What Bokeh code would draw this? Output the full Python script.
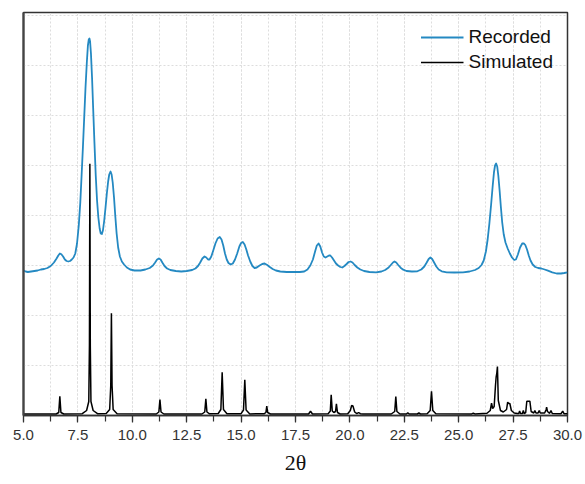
from bokeh.plotting import figure
from bokeh.models import Range1d, SingleIntervalTicker, FixedTicker, PrintfTickFormatter
from bokeh.embed import file_html
from bokeh.resources import INLINE

# Recorded pattern (offset)
rec_x = [5.00, 5.10, 5.20, 5.35, 5.50, 5.65, 5.80, 5.95, 6.10, 6.25, 6.40, 6.52, 6.60, 6.67,
         6.74, 6.82, 6.90, 6.98, 7.06, 7.14, 7.22, 7.30, 7.38, 7.46, 7.54, 7.61, 7.67, 7.73,
         7.79, 7.85, 7.91, 7.96, 8.00, 8.03, 8.06, 8.10, 8.15, 8.20, 8.26, 8.32, 8.38, 8.44,
         8.50, 8.55, 8.60, 8.65, 8.71, 8.77, 8.83, 8.89, 8.94, 9.00, 9.05, 9.10, 9.16, 9.22,
         9.28, 9.35, 9.43, 9.52, 9.62, 9.75, 9.90, 10.10, 10.38,
         10.60, 10.80, 10.95, 11.05, 11.14, 11.22, 11.30, 11.38, 11.48, 11.60, 11.75, 12.00,
         12.25, 12.50, 12.75, 12.90, 13.02, 13.12, 13.22, 13.32, 13.40, 13.48, 13.55, 13.63,
         13.72, 13.82, 13.92, 14.02, 14.10, 14.18, 14.26, 14.34, 14.42, 14.52, 14.62, 14.72,
         14.82, 14.92, 15.00, 15.08, 15.16, 15.24, 15.32, 15.42, 15.52, 15.62, 15.72, 15.85,
         15.97, 16.08, 16.20, 16.32, 16.45, 16.60, 16.80, 17.10, 17.40, 17.70, 17.90, 18.05,
         18.18, 18.30, 18.40, 18.48, 18.56, 18.64, 18.72, 18.80, 18.88, 18.96, 19.04, 19.10,
         19.18, 19.27, 19.36, 19.46, 19.56, 19.65, 19.75, 19.85, 19.94, 20.03, 20.12, 20.22,
         20.34, 20.48, 20.65, 20.90, 21.20, 21.45, 21.62, 21.78, 21.90, 21.98, 22.05, 22.13,
         22.22, 22.33, 22.45, 22.60, 22.85, 23.10, 23.28, 23.42, 23.53, 23.62, 23.70, 23.78,
         23.87, 23.97, 24.08, 24.22, 24.45, 24.80, 25.20, 25.50, 25.75, 25.92, 26.05, 26.15,
         26.25, 26.33, 26.41, 26.49, 26.56, 26.62, 26.67, 26.72, 26.77, 26.82, 26.88, 26.94,
         27.00, 27.07, 27.15, 27.25, 27.35, 27.45, 27.55, 27.63, 27.72, 27.82, 27.92, 27.99,
         28.06, 28.14, 28.22, 28.30, 28.40, 28.52, 28.65, 28.80, 28.95, 29.10, 29.30, 29.50,
         29.70, 29.85, 30.00]
rec_y = [1450, 1440, 1435, 1440, 1445, 1450, 1460, 1465, 1475, 1495, 1530, 1570, 1600, 1620,
         1612, 1590, 1560, 1545, 1540, 1545, 1560, 1580, 1620, 1720, 1900, 2130, 2400, 2680,
         2980, 3280, 3530, 3700, 3760, 3770, 3740, 3620, 3380, 3080, 2730, 2400, 2150, 1980,
         1870, 1820, 1815, 1850, 1950, 2080, 2220, 2340, 2410, 2440, 2410, 2330, 2180, 1990,
         1820, 1680, 1590, 1540, 1510, 1480, 1460, 1450, 1450,
         1460, 1475, 1500, 1530, 1560, 1570, 1560, 1530, 1495, 1470, 1455, 1445,
         1440, 1445, 1455, 1470, 1495, 1530, 1570, 1590, 1580, 1560, 1560, 1590,
         1650, 1720, 1770, 1785, 1760, 1700, 1620, 1560, 1525, 1510, 1520, 1560,
         1620, 1690, 1725, 1735, 1710, 1660, 1600, 1540, 1495, 1475, 1480, 1500,
         1515, 1520, 1505, 1485, 1465, 1450, 1440, 1435, 1435, 1435, 1440, 1460,
         1500, 1560, 1640, 1700, 1720, 1690, 1630, 1590, 1580, 1590, 1600, 1600,
         1580, 1550, 1520, 1500, 1485, 1480, 1495, 1515, 1535, 1540, 1530, 1505,
         1480, 1460, 1445, 1435, 1432, 1440, 1455, 1480, 1510, 1530, 1540, 1530,
         1505, 1478, 1458, 1445, 1440, 1442, 1460, 1490, 1530, 1565, 1580, 1565,
         1530, 1490, 1460, 1442, 1432, 1430, 1432, 1440, 1455, 1475, 1505, 1550,
         1640, 1760, 1920, 2110, 2290, 2430, 2500, 2520, 2490, 2400, 2250, 2080,
         1930, 1810, 1730, 1670, 1620, 1580, 1555, 1560, 1610, 1680, 1720, 1722,
         1705, 1660, 1600, 1550, 1510, 1485, 1475, 1470, 1460, 1448, 1432, 1420,
         1420, 1425, 1432]

# Simulated pattern
sim_x = [5.00, 6.50, 6.62, 6.67, 6.72, 6.85,
         7.70, 7.90, 8.00, 8.03, 8.05, 8.07, 8.10, 8.20, 8.40,
         8.80, 8.96, 9.01, 9.04, 9.07, 9.12, 9.30,
         11.10, 11.22, 11.27, 11.32, 11.45,
         13.20, 13.33, 13.38, 13.43, 13.55,
         13.95, 14.07, 14.13, 14.19, 14.35,
         15.00, 15.11, 15.17, 15.23, 15.40,
         16.05, 16.14, 16.18, 16.22, 16.35,
         18.10, 18.19, 18.28,
         19.00, 19.10, 19.14, 19.19, 19.26, 19.34, 19.38, 19.43, 19.55,
         19.90, 20.02, 20.08, 20.14, 20.22, 20.32, 20.40, 20.48, 20.60,
         21.90, 22.06, 22.11, 22.16, 22.30,
         22.60, 22.66, 22.72,
         23.10, 23.17, 23.24,
         23.55, 23.69, 23.75, 23.81, 23.95,
         25.60, 25.67, 25.74,
         26.30, 26.45, 26.51, 26.56, 26.63, 26.69, 26.72, 26.75, 26.78, 26.82,
         26.92, 27.05, 27.20, 27.25, 27.30, 27.35, 27.42, 27.55, 27.70, 27.76,
         27.80, 27.84, 27.93, 27.97, 28.01, 28.08, 28.13, 28.27, 28.33, 28.45,
         28.50, 28.55, 28.65, 28.70, 28.75, 28.95, 29.02, 29.04, 29.08, 29.18,
         29.24, 29.30, 29.70, 29.78, 29.84, 30.00]
sim_y = [15, 15, 30, 193, 30, 15,
         18, 50, 140, 700, 2517, 700, 140, 50, 18,
         20, 60, 300, 1023, 300, 60, 18,
         15, 35, 160, 35, 15,
         15, 35, 167, 35, 17,
         20, 60, 433, 60, 18,
         18, 55, 357, 55, 16,
         17, 30, 93, 30, 15,
         15, 43, 15,
         18, 45, 207, 45, 30, 40, 117, 30, 15,
         18, 50, 100, 95, 35, 18, 30, 18, 15,
         15, 40, 190, 40, 15,
         15, 27, 15,
         15, 25, 15,
         17, 50, 243, 50, 17,
         16, 23, 16,
         22, 50, 123, 70, 90, 300, 383, 420, 490, 150,
         50, 35, 60, 133, 120, 120, 50, 25, 20, 20,
         45, 20, 20, 50, 20, 30, 143, 143, 40, 25,
         50, 25, 25, 50, 25, 25, 60, 83, 40, 22,
         50, 20, 18, 43, 18, 18]

y_grid = [500, 1000, 1500, 2000, 2500, 3000, 3500, 4000]

p = figure(width=585, height=484, x_range=Range1d(5, 30), y_range=Range1d(0, 4030),
           output_backend="svg", toolbar_location=None,
           min_border_left=23, min_border_right=18, min_border_top=12,
           min_border_bottom=69)
p.background_fill_color = "white"
p.border_fill_color = "white"
p.outline_line_color = "#333333"
p.outline_line_width = 1.5

p.line(rec_x, rec_y, line_color="#2489c2", line_width=1.8, legend_label="Recorded",
       line_join="round")
p.line(sim_x, sim_y, line_color="black", line_width=1.5, legend_label="Simulated")

# x axis
p.xaxis.ticker = SingleIntervalTicker(interval=2.5, num_minor_ticks=2)
p.xaxis.formatter = PrintfTickFormatter(format="%.1f")
p.xaxis.axis_line_color = "#333333"
p.xaxis.axis_line_width = 1.5
p.xaxis.major_tick_line_color = "#333333"
p.xaxis.major_tick_line_width = 1.2
p.xaxis.minor_tick_line_color = "#333333"
p.xaxis.minor_tick_line_width = 1.2
p.xaxis.major_tick_in = 0
p.xaxis.major_tick_out = 7
p.xaxis.minor_tick_in = 0
p.xaxis.minor_tick_out = 6
p.xaxis.major_label_text_font = "Liberation Sans"
p.xaxis.major_label_text_font_size = "15px"
p.xaxis.major_label_text_color = "#333333"
p.xaxis.major_label_standoff = 7
p.xaxis.axis_label = "2θ"
p.xaxis.axis_label_text_font = "Liberation Serif"
p.xaxis.axis_label_text_font_style = "normal"
p.xaxis.axis_label_text_font_size = "22px"
p.xaxis.axis_label_text_color = "#111111"
p.xaxis.axis_label_standoff = 7

# y axis: line only
p.yaxis.ticker = FixedTicker(ticks=[])
p.yaxis.axis_line_color = "#444444"
p.yaxis.axis_line_width = 2.2
p.yaxis.major_tick_line_color = None
p.yaxis.minor_tick_line_color = None
p.yaxis.major_label_text_font_size = "0px"

# grids
p.xgrid.grid_line_color = "#dddddd"
p.xgrid.grid_line_dash = "2 2"
p.xgrid.grid_line_width = 1
p.xgrid.minor_grid_line_color = "#dddddd"
p.xgrid.minor_grid_line_dash = "2 2"
p.ygrid.ticker = FixedTicker(ticks=y_grid)
p.ygrid.grid_line_color = "#dddddd"
p.ygrid.grid_line_dash = "2 2"

# legend
lg = p.legend[0]
lg.location = "top_right"
lg.border_line_color = None
lg.background_fill_alpha = 0
lg.margin = 14
lg.padding = 5
lg.glyph_width = 43
lg.glyph_height = 20
lg.label_height = 20
lg.spacing = 3
lg.label_standoff = 5
lg.label_text_font = "Liberation Sans"
lg.label_text_font_size = "19px"
lg.label_text_color = "#111111"

open("out.html", "w").write(file_html(p, INLINE))
